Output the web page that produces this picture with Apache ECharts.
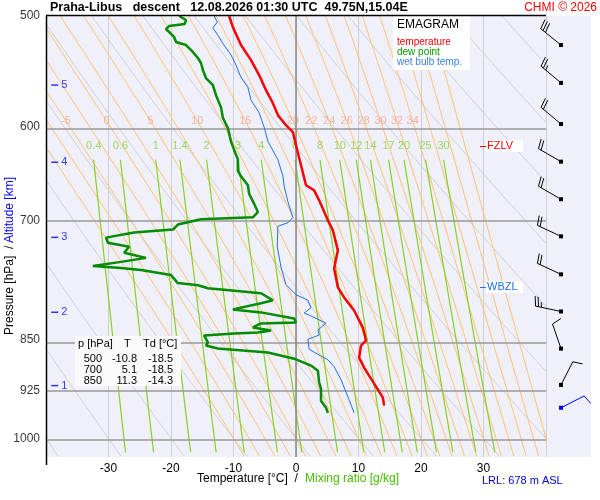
<!DOCTYPE html>
<html><head><meta charset="utf-8">
<script src="https://cdn.jsdelivr.net/npm/echarts@6/dist/echarts.min.js"></script>
<style>html,body{margin:0;padding:0;background:#fff}#c{width:600px;height:500px}</style>
</head><body><div id="c"></div>
<script>
// ---- data (pressure hPa, temperature °C) ----
const tempP = [500,509.2,524.4,537.5,550.9,564.7,576.9,588.3,598.1,605,623.2,638.7,660.1,665.6,676.6,699.2,710.8,734.5,756.6,780.6,793.5,810.7,833.7,851.7,858.7,875.8,890.4,914.1,935.3,947.7];
const tempT = [-10.7,-10.1,-8.8,-7.2,-5.9,-4.8,-3.7,-2.9,-1.6,-0.5,0.2,0.8,1.6,2.9,3.7,5.1,5.9,6.7,6.1,6.7,7.7,9.3,10.7,11.2,10.4,10.1,10.9,12.5,13.9,14.1];
const dewP = [500,503.3,506.6,508.3,510.8,517.5,521.8,524.4,530.4,535.7,540.1,546.3,553.6,560,569.4,580.9,590.9,601,614.4,622.9,632.6,644.6,650.4,660.1,669.3,680.5,689.8,695.7,698,704,709.9,713.4,719.3,725.3,730.1,737.4,743.6,748.5,753.6,756.1,758.5,764.9,775,777.8,781.6,788.1,797.2,801.2,809.2,813.2,821.3,826.7,828.1,833.5,837.7,840.4,840.4,841.8,844.6,854.3,858.5,862.8,868.6,877.4,887.4,894.8,912.6,921.7,940.1,951,959];
const dewT = [-18.7,-17.6,-17.8,-20.3,-20.8,-19.5,-19.2,-17.6,-16.5,-15.7,-15.2,-14.9,-14.4,-13.3,-12.8,-12.0,-11.7,-10.9,-10.4,-9.9,-9.3,-9.3,-8.8,-7.7,-7.5,-6.7,-6.1,-6.9,-15.2,-18.9,-19.7,-25.9,-30.4,-30.1,-26.7,-27.5,-24.0,-28.0,-32.5,-28.0,-24.8,-20.0,-18.9,-15.7,-14.1,-5.6,-3.7,-5.6,-10.1,-5.6,-0.3,0,-5.6,-6.9,-4.0,-3.7,-6.1,-9.9,-14.7,-14.1,-14.4,-12.5,-4.5,-0.3,2.4,3.5,3.7,4.0,4.0,4.8,5.1];
const wbP = [500,505,510,516,523,533,542,553,562,574,586,600,614,633,650,661,678,696,702,706,730,755,777,790,797,807,814,821,828,837,844,850,864,871,879,889,908,934,959];
const wbT = [-13.1,-12.6,-13.3,-12.5,-11.7,-10.4,-9.6,-8.8,-7.7,-7.2,-5.9,-5.1,-4.5,-2.9,-2.1,-1.9,-1.3,-0.5,-1.3,-2.9,-3.0,-2.4,-1.6,0,1.9,2.4,1.3,3.2,4.8,3.5,3.7,1.9,2.1,3.5,5.1,6.1,7.2,8.3,9.3];
const pressureLevels = [500,600,700,850,925,1000];
const altitudeKm = [5,4,3,2,1];
const altitudeP = [560,635.6,719,813,917];
const moistLabels = [-5,0,5,10,15,20,22,24,26,28,30,32,34];
const moistLines = [-10,-7.5,-5,-2.5,0,2.5,5,7.5,10,12.5,15,17.5,20,22,24,26,28,30,32,34,36,38,40];
const mixRatios = [0.4,0.6,1,1.4,2,3,4,6,8,10,12,14,17,20,25,30];
const dryTheta = [-40,-30,-20,-10,0,10,20,30,40,50,60,70,80,90,100,110,120,130,140,150,160];
const windP = [524.4,558,597,635,675.4,717.8,764,812,863,916,951];
const windDir = [309,310,310,300,300,295,295,282,341,27,63];
const windKt = [30,25,20,20,20,20,20,25,10,10,10];
const tableP = [500,700,850];
const tableT = ['-10.8','5.1','11.3'];
const tableTd = ['-18.5','-18.5','-14.3'];
const xTicks = [-30,-20,-10,0,10,20,30];

const L = Math.log;
const PMIN=500, PMAX=1031;
function es(Tc){return 6.112*Math.exp(17.67*Tc/(Tc+243.5));}
function dry(th){const out=[];for(let p=PMIN;p<=PMAX;p+=10){out.push([(th+273.15)*Math.pow(p/1000,0.2857)-273.15,L(p)]);}return out;}
function moist(tw){
  const Rd=287,cp=1004,Lv=2.5e6,eps=0.622;
  function step(T,p,dp){const e=es(T-273.15);const rs=eps*e/(p-e);
    const d=(Rd*T+Lv*rs)/(p*(cp+Lv*Lv*rs*eps/(Rd*T*T)));return T+d*dp;}
  const up=[],down=[];let T=tw+273.15;
  for(let p=1000;p>=PMIN;p-=2){up.push([T-273.15,L(p)]);T=step(T,p,-2);}
  T=tw+273.15;for(let p=1000;p<=PMAX;p+=2){down.push([T-273.15,L(p)]);T=step(T,p,2);}
  return up.reverse().concat(down);
}
function moistAt(tw,pp){const c=moist(tw);let best=c[0];for(const q of c){if(Math.abs(q[1]-L(pp))<Math.abs(best[1]-L(pp)))best=q;}return best[0];}
function tdFromW(w,p){const e=w*p/(622+w);const a=L(e/6.112);return 243.5*a/(17.67-a);}
function mix(w){const out=[];for(let p=633;p<=PMAX;p+=10)out.push([tdFromW(w,p),L(p)]);return out;}
const zip=(P,T)=>P.map((p,i)=>[T[i],L(p)]);
const F='Arial, Liberation Sans, sans-serif';

const series=[];
const bgLine=(data,color,w)=>({type:'line',data,showSymbol:false,silent:true,animation:false,lineStyle:{color,width:w},z:1,clip:true});
dryTheta.forEach(t=>series.push(bgLine(dry(t),'#d0d0d0',1)));
moistLines.forEach(t=>series.push(bgLine(moist(t),'#ffbf70',1)));
mixRatios.forEach(w=>series.push(bgLine(mix(w),'#88d020',1.2)));
series.push({type:'line',data:[],markLine:{symbol:'none',silent:true,animation:false,
  lineStyle:{color:'#9a9a9a',width:1.5,type:'solid'},label:{show:false},
  data:pressureLevels.filter(p=>p>PMIN).map(p=>({yAxis:L(p)})).concat([{xAxis:0,lineStyle:{color:'#888',width:1.5}}])}});
series.push({type:'scatter',silent:true,animation:false,symbolSize:0,clip:false,
  data:pressureLevels.map(p=>({value:[-40,L(p)],name:String(p)})),
  label:{show:true,position:'left',distance:6,formatter:p=>p.name,color:'#000',fontSize:12,fontFamily:F}});
series.push({type:'scatter',silent:true,animation:false,symbolSize:0,
  data:moistLabels.map(t=>({value:[moistAt(t,594),L(594)],name:String(t)})),
  label:{show:true,position:'inside',formatter:p=>p.name,color:'#f5a58a',fontSize:11,fontFamily:F}});
series.push({type:'scatter',silent:true,animation:false,symbolSize:0,
  data:mixRatios.map(w=>({value:[tdFromW(w,633),L(619)],name:String(w)})),
  label:{show:true,position:'inside',formatter:p=>p.name,color:'#8ccf3a',fontSize:11,fontFamily:F}});
series.push({type:'scatter',silent:true,animation:false,symbol:'rect',symbolSize:[7,1.5],itemStyle:{color:'#0000ff'},
  data:altitudeP.map((p,i)=>({value:[-38.6,L(p)],name:String(altitudeKm[i])})),
  label:{show:true,position:'right',distance:3,formatter:p=>p.name,color:'#0000ff',fontSize:11,fontFamily:F}});
series.push({type:'line',data:zip(wbP,wbT),showSymbol:false,animation:false,lineStyle:{color:'#1f6fe6',width:1},z:5});
series.push({type:'line',data:zip(dewP,dewT),showSymbol:false,animation:false,lineStyle:{color:'#008c00',width:2.5},z:6});
series.push({type:'line',data:zip(tempP,tempT),showSymbol:false,animation:false,lineStyle:{color:'#ff0000',width:2.5},z:7});
// wind barbs
series.push({type:'custom',animation:false,clip:false,silent:true,z:8,
  data:windP.map((p,i)=>[40,L(p),windDir[i],windKt[i],i]),
  renderItem:(params,api)=>{
    const c=api.coord([api.value(0),api.value(1)]);const x=c[0]+15,y=c[1];
    const d=api.value(2)*Math.PI/180,kt=api.value(3);
    const col=api.value(4)===windP.length-1?'#0000ff':'#000';
    const ux=Math.sin(d),uy=-Math.cos(d),len=26;
    const ex=x+ux*len,ey=y+uy*len;
    const ch=[{type:'line',shape:{x1:x,y1:y,x2:ex,y2:ey},style:{stroke:col,lineWidth:1}},
      {type:'rect',shape:{x:x-2,y:y-2,width:4,height:4},style:{fill:col}}];
    const bd=d+Math.PI*0.42;const bx=Math.sin(bd),by=-Math.cos(bd);
    let n=kt/10,k=0;
    while(n>0.01){const frac=n>=1?1:0.5;const sx=ex-ux*k*3,sy=ey-uy*k*3;const bl=10*frac;
      ch.push({type:'line',shape:{x1:sx,y1:sy,x2:sx+bx*bl,y2:sy+by*bl},style:{stroke:col,lineWidth:1}});n-=frac;k++;}
    return {type:'group',children:ch};
  }});

const txt=(x,y,t,fill,size,extra)=>Object.assign({type:'text',x:x,y:y,style:Object.assign({text:t,fill,fontSize:size,fontFamily:F},extra||{}),z:100});
const graphic=[
  {type:'rect',shape:{x:46,y:16,width:545,height:441},style:{fill:'#f0f0fb'},z:-10},
  {type:'line',shape:{x1:46,y1:15.5,x2:546,y2:15.5},style:{stroke:'#000',lineWidth:1.5},z:100},
  {type:'line',shape:{x1:46.5,y1:16,x2:46.5,y2:465},style:{stroke:'#000',lineWidth:1.5},z:100},
  txt(50,1,'Praha-Libus   descent   12.08.2026 01:30 UTC  49.75N,15.04E','#000',12.5,{fontWeight:'bold'}),
  txt(597,2,'CHMI © 2026','#ff0000',12,{align:'right'}),
  {type:'rect',shape:{x:393,y:16,width:77,height:54},style:{fill:'#fff'},z:99},
  txt(397,19,'EMAGRAM','#000',12),
  txt(397,37,'temperature','#ff0000',10),
  txt(397,47,'dew point','#00a000',10),
  txt(397,57,'wet bulb temp.','#3a80ea',10),
  {type:'rect',shape:{x:75,y:336,width:106,height:50},style:{fill:'#fafafa'},z:99},
  txt(78,338,'p [hPa]','#000',11), txt(124,338,'T','#000',11), txt(143,338,'Td [°C]','#000',11),
  {type:'line',shape:{x1:480,y1:146.5,x2:486,y2:146.5},style:{stroke:'#ff0000'},z:100},
  {type:'rect',shape:{x:486,y:140,width:37,height:12},style:{fill:'#fff'},z:99},
  txt(487,140,'FZLV','#ff0000',11),
  {type:'line',shape:{x1:480,y1:287.5,x2:486,y2:287.5},style:{stroke:'#1f6fe6'},z:100},
  {type:'rect',shape:{x:486,y:281,width:37,height:12},style:{fill:'#fff'},z:99},
  txt(487,281,'WBZL','#1f6fe6',11),
  txt(197,473,'Temperature [°C]  /','#000',12),
  txt(305,473,'Mixing ratio [g/kg]','#44c000',12),
  txt(482,475,'LRL: 678 m ASL','#0000cc',11),
  {type:'text',x:4,y:335,rotation:Math.PI/2,style:{text:'Pressure [hPa]  /',fill:'#000',fontSize:12,fontFamily:F},z:100},
  {type:'text',x:4,y:243,rotation:Math.PI/2,style:{text:'Altitude [km]',fill:'#0000ff',fontSize:12,fontFamily:F},z:100}
];
tableP.forEach((p,i)=>{const y=353+i*11;
  graphic.push(txt(102,y,String(p),'#000',11,{align:'right'}));
  graphic.push(txt(137,y,tableT[i],'#000',11,{align:'right'}));
  graphic.push(txt(173,y,tableTd[i],'#000',11,{align:'right'}));
});

const chart=echarts.init(document.getElementById('c'));
chart.setOption({animation:false,
  grid:{left:46,right:54,top:16,bottom:43,containLabel:false},
  xAxis:{type:'value',min:-40,max:40,interval:10,axisLine:{show:false},axisTick:{show:false},
    axisLabel:{color:'#000',fontSize:12,fontFamily:F,margin:6,formatter:v=>xTicks.includes(v)?String(v):''},
    splitLine:{show:true,lineStyle:{color:'#cfcfcf',width:1}}},
  yAxis:{type:'value',inverse:true,min:L(PMIN),max:L(PMAX),axisLine:{show:false},axisTick:{show:false},axisLabel:{show:false},splitLine:{show:false}},
  series,graphic});
</script></body></html>
